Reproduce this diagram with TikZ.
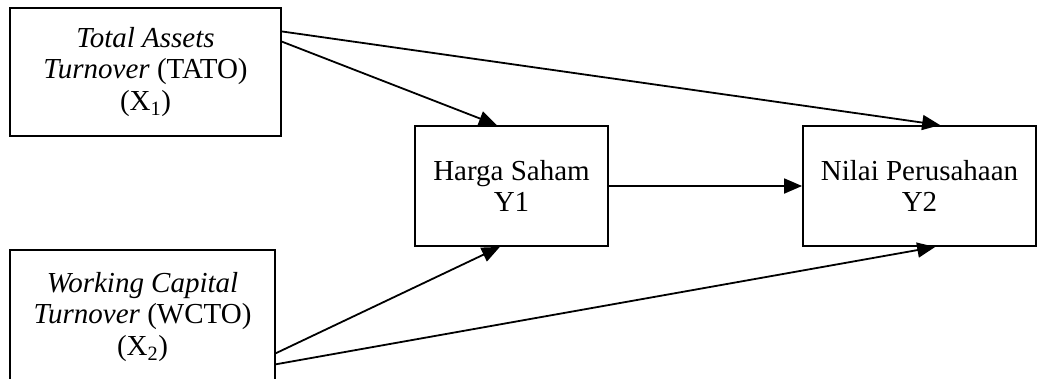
\documentclass[tikz,border=0pt]{standalone}
\usepackage{fontspec}
\setmainfont{Liberation Serif}
\usetikzlibrary{arrows.meta,calc}
\begin{document}
\begin{tikzpicture}[x=1pt,y=-1pt,
  box/.style={draw=black, line width=1.8pt, rectangle, align=center, inner sep=0pt, font=\fontsize{29}{31.5}\selectfont},
  boxtext/.style={align=center, inner sep=0pt, font=\fontsize{29}{31.5}\selectfont},
  conn/.style={line width=1.8pt, -{Triangle[length=18pt,width=15pt]}}]
\useasboundingbox (0,0) rectangle (1044,378);
\clip (0,0) rectangle (1044,378);
\node[box, minimum width=271pt, minimum height=128pt] (tato) at (145.5,72)
  {\textit{Total Assets}\\ \textit{Turnover} (TATO)\\ (X\textsubscript{1})};
\node[box, minimum width=265pt, minimum height=160pt, anchor=north] (wcto) at (142.5,249) {};
\node[boxtext] (wctotext) at (142.5,317)
  {\textit{Working Capital}\\ \textit{Turnover} (WCTO)\\ (X\textsubscript{2})};
\node[box, minimum width=193pt, minimum height=120pt] (harga) at (511.5,186)
  {Harga Saham\\ Y1};
\node[box, minimum width=233pt, minimum height=120pt] (nilai) at (919.5,186)
  {Nilai Perusahaan\\ Y2};
\draw[conn] ($(tato.north east)!0.266!(tato.south east)$) -- ($(harga.north west)!0.425!(harga.north east)$);
\draw[conn] ($(tato.north east)!0.1875!(tato.south east)$) -- ($(nilai.north west)!0.588!(nilai.north east)$);
\draw[conn] (harga.east) -- (nilai.west);
\draw[conn] ($(wcto.north east)!0.644!(wcto.south east)$) -- ($(harga.south west)!0.44!(harga.south east)$);
\draw[conn] ($(wcto.north east)!0.7125!(wcto.south east)$) -- ($(nilai.south west)!0.567!(nilai.south east)$);
\end{tikzpicture}
\end{document}
